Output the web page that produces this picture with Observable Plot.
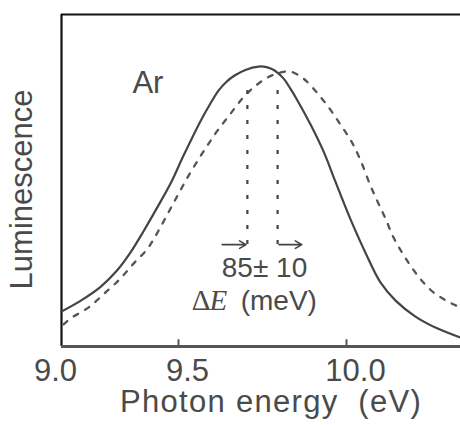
<!DOCTYPE html>
<html>
<head>
<meta charset="utf-8">
<script src="https://cdn.jsdelivr.net/npm/d3@7"></script>
<script src="https://cdn.jsdelivr.net/npm/@observablehq/plot@0.6"></script>
<style>
  html, body { margin: 0; padding: 0; background: #fff; }
  #chart svg { display: block; }
</style>
</head>
<body>
<div id="chart"></div>
<script>
// Photon energy (eV) and relative luminescence
const solidEnergy = [9.000, 9.081, 9.167, 9.239, 9.295, 9.350, 9.410, 9.466, 9.515, 9.565, 9.595, 9.619, 9.643, 9.667, 9.699, 9.738, 9.762, 9.786, 9.813, 9.833, 9.854, 9.893, 9.932, 9.967, 10.012, 10.063, 10.101, 10.146, 10.205, 10.271, 10.339];
const solidLum    = [0.125, 0.163, 0.213, 0.273, 0.336, 0.411, 0.498, 0.582, 0.682, 0.804, 0.868, 0.914, 0.946, 0.968, 0.988, 1.000, 0.998, 0.986, 0.957, 0.921, 0.879, 0.793, 0.696, 0.589, 0.454, 0.318, 0.229, 0.164, 0.107, 0.064, 0.032];

const dashedEnergy = [9.009, 9.038, 9.115, 9.188, 9.252, 9.308, 9.368, 9.410, 9.457, 9.496, 9.527, 9.557, 9.586, 9.616, 9.655, 9.690, 9.723, 9.765, 9.804, 9.833, 9.872, 9.914, 9.952, 9.982, 10.015, 10.042, 10.071, 10.095, 10.116, 10.140, 10.167, 10.196, 10.226, 10.259, 10.301, 10.339];
const dashedLum    = [0.079, 0.100, 0.139, 0.193, 0.243, 0.296, 0.350, 0.407, 0.479, 0.539, 0.604, 0.664, 0.718, 0.771, 0.832, 0.886, 0.925, 0.961, 0.979, 0.982, 0.957, 0.904, 0.846, 0.793, 0.732, 0.664, 0.575, 0.511, 0.457, 0.389, 0.332, 0.279, 0.232, 0.193, 0.161, 0.139];

const xTicks = [9.0, 9.5, 10.0];
const peakShift = [9.705, 9.795];   // peak positions marked by dotted lines (eV)
const shiftTop = 0.95, shiftLevel = 0.364;
const shiftLabel = "85\u00b1 10";
const xTitle = "Photon energy  (eV)";
const yTitle = "Luminescence";

const solid = solidEnergy.map((e, i) => ({e, l: solidLum[i]}));
const dashed = dashedEnergy.map((e, i) => ({e, l: dashedLum[i]}));

const font = "'Liberation Sans', Arial, Helvetica, sans-serif";
const serif = "'Liberation Serif', 'Times New Roman', serif";
const ink = "#4a4a4a";

const chart = Plot.plot({
  width: 460,
  height: 425,
  marginLeft: 61,
  marginTop: 14,
  marginRight: 0,
  marginBottom: 79,
  style: {fontFamily: font, background: "#fff", overflow: "visible"},
  x: {type: "linear", axis: null, domain: [9.0, 9.5, 10.0, 10.339], range: [61, 178, 346, 460]},
  y: {axis: null, domain: [0, 1.186], range: [346, 14]},
  marks: [
    // frame
    Plot.ruleX([xTicks[0]], {y1: 0, y2: 1.186, stroke: "#111", strokeWidth: 2.2}),
    Plot.ruleY([1.186], {x1: 9.0, x2: 10.339, stroke: "#111", strokeWidth: 2.2}),
    Plot.ruleY([0], {x1: 9.0, x2: 10.339, stroke: "#555", strokeWidth: 3}),
    Plot.ruleX(xTicks.slice(1), {y1: 0, y2: 0.024, stroke: "#555", strokeWidth: 2}),
    // tick labels
    Plot.text(xTicks.filter(d => d === 9.0), {x: d => d, frameAnchor: "bottom", dy: 25, dx: -6, lineAnchor: "middle", text: d => d.toFixed(1), fontSize: 31, fill: ink}),
    Plot.text(xTicks.filter(d => d > 9.0), {x: d => d, frameAnchor: "bottom", dy: 25, dx: 9, lineAnchor: "middle", text: d => d.toFixed(1), fontSize: 31, fill: ink}),
    // axis titles
    Plot.text([xTitle], {frameAnchor: "bottom", dx: 10, dy: 56, lineAnchor: "middle", fontSize: 31, fill: ink}),
    Plot.text([yTitle], {x: 8.833, y: 0.561, rotate: -90, textAnchor: "middle", lineAnchor: "middle", fontSize: 31, fill: ink}),
    // curves
    Plot.line(dashed, {x: "e", y: "l", curve: "catmull-rom", stroke: "#555", strokeWidth: 2.3, strokeDasharray: "5,8"}),
    Plot.line(solid, {x: "e", y: "l", curve: "catmull-rom", stroke: "#444", strokeWidth: 2.2}),
    // peak shift markers
    Plot.ruleX(peakShift, {y1: shiftLevel, y2: shiftTop, stroke: "#444", strokeWidth: 2.2, strokeDasharray: "4,11"}),
    Plot.arrow([peakShift[0]], {x1: d => d - 0.075, x2: d => d - 0.004, y1: shiftLevel, y2: shiftLevel, stroke: "#444", strokeWidth: 1.6, headLength: 7}),
    Plot.arrow([peakShift[1]], {x1: d => d + 0.004, x2: d => d + 0.072, y1: shiftLevel, y2: shiftLevel, stroke: "#444", strokeWidth: 1.6, headLength: 7}),
    // annotations
    Plot.text(["Ar"], {x: 9.303, y: 0.941, textAnchor: "start", lineAnchor: "middle", fontSize: 31, fill: ink}),
    Plot.text([shiftLabel], {x: 9.756, y: 0.282, lineAnchor: "middle", fontSize: 28, fill: ink}),
    Plot.text(["\u0394"], {x: 9.595, y: 0.164, textAnchor: "end", lineAnchor: "middle", fontSize: 29, fontFamily: serif, fill: ink}),
    Plot.text(["E"], {x: 9.592, y: 0.164, textAnchor: "start", lineAnchor: "middle", fontSize: 29, fontStyle: "italic", fontFamily: serif, fill: ink}),
    Plot.text(["(meV)"], {x: 9.685, y: 0.164, textAnchor: "start", lineAnchor: "middle", fontSize: 28, fill: ink})
  ]
});
// widen the x-axis title a little, as in the reference typesetting
d3.select(chart).selectAll("text").filter(function() { return this.textContent === xTitle; })
  .style("letter-spacing", "1.3px").style("white-space", "pre");
document.getElementById("chart").appendChild(chart);
</script>
</body>
</html>
